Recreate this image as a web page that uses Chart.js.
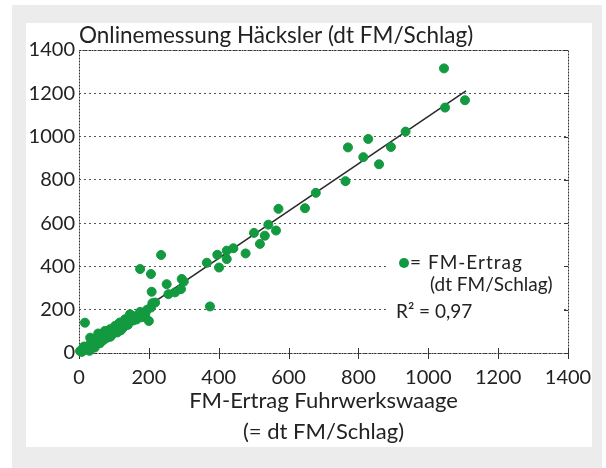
<!DOCTYPE html>
<html>
<head>
<meta charset="utf-8">
<script src="https://cdn.jsdelivr.net/npm/chart.js@4.4.1/dist/chart.umd.min.js"></script>
<style>
  html, body { margin: 0; padding: 0; background: #fff; }
  #wrap { width: 606px; height: 468px; }
</style>
</head>
<body>
<div id="wrap"><canvas id="chart" width="606" height="468"></canvas></div>
<script>
// values (dt FM per field)
const fmWaage = [3, 8, 12, 15, 17, 20, 27, 30, 32, 35, 40, 45, 46, 50, 55, 60, 60, 65, 70, 74, 75, 80, 85, 89, 90, 95, 100, 103, 110, 110, 117, 120, 125, 130, 132, 140, 146, 150, 155, 160, 165, 175, 175, 180, 185, 190, 195, 200, 206, 206, 208, 210, 218, 235, 251, 256, 275, 292, 294, 300, 366, 375, 396, 401, 423, 423, 442, 477, 501, 518, 532, 542, 564, 571, 647, 678, 763, 770, 814, 828, 859, 893, 935, 1045, 1048, 1105];
const fmHaecksler = [9, 5, 25, 30, 140, 15, 32, 10, 71, 50, 30, 25, 63, 40, 90, 79, 45, 55, 60, 102, 85, 70, 90, 110, 75, 85, 100, 125, 95, 130, 141, 105, 115, 125, 156, 130, 179, 160, 150, 170, 155, 190, 388, 165, 175, 180, 200, 148, 210, 365, 283, 230, 233, 453, 318, 272, 280, 295, 342, 330, 417, 215, 454, 395, 473, 434, 484, 460, 555, 504, 542, 593, 566, 666, 669, 740, 794, 950, 905, 989, 872, 952, 1023, 1315, 1134, 1168];

// regression line end points
const fitX = [0, 1108];
const fitY = [0, 1211];

const tickValues = [0, 200, 400, 600, 800, 1000, 1200, 1400];
const chartTitle = 'Onlinemessung Häcksler (dt FM/Schlag)';
const xTitle = ['FM-Ertrag Fuhrwerkswaage', '(= dt FM/Schlag)'];
const legendLines = ['= FM-Ertrag', '(dt FM/Schlag)'];
const r2Text = 'R² = 0,97';

const green = '#13993f';
const ink = '#222';
const fontFamily = 'Lato, "Noto Sans", sans-serif';

// background, dotted frame, tick marks and the legend box
const framePlugin = {
  id: 'frame',
  beforeDraw(chart) {
    const ctx = chart.ctx;
    ctx.save();
    ctx.fillStyle = '#fff';
    ctx.fillRect(0, 0, chart.width, chart.height);
    ctx.fillStyle = '#ececec';
    ctx.fillRect(12, 5, 590, 463);
    ctx.fillStyle = '#fff';
    ctx.fillRect(26, 23, 566, 424);
    ctx.restore();
  },
  beforeDatasetsDraw(chart) {
    const ctx = chart.ctx;
    const a = chart.chartArea;
    const xs = chart.scales.x;
    const ys = chart.scales.y;
    ctx.save();
    ctx.strokeStyle = '#333';
    ctx.lineWidth = 1;
    ctx.setLineDash([2, 1]);
    ctx.strokeRect(a.left + 0.5, a.top + 0.5, a.right - a.left, a.bottom - a.top);
    ctx.setLineDash([]);
    ctx.beginPath();
    tickValues.forEach(v => {
      const px = Math.round(xs.getPixelForValue(v)) + 0.5;
      ctx.moveTo(px, a.bottom - 5);
      ctx.lineTo(px, a.bottom + 6);
      const py = Math.round(ys.getPixelForValue(v)) + 0.5;
      ctx.moveTo(a.right - 4, py);
      ctx.lineTo(a.right, py);
    });
    ctx.stroke();
    ctx.restore();
  },
  afterDatasetsDraw(chart) {
    const ctx = chart.ctx;
    ctx.save();
    ctx.fillStyle = '#fff';
    ctx.fillRect(386, 249, 178, 74);
    ctx.fillStyle = green;
    ctx.beginPath();
    ctx.arc(404, 263, 5, 0, Math.PI * 2);
    ctx.fill();
    ctx.fillStyle = ink;
    ctx.font = '19px ' + fontFamily;
    ctx.textBaseline = 'middle';
    ctx.letterSpacing = '1px';
    ctx.fillText(legendLines[0], 410, 263);
    ctx.letterSpacing = '0px';
    ctx.fillText(legendLines[1], 430, 285);
    ctx.fillText(r2Text, 396, 312);
    ctx.restore();
  }
};

new Chart(document.getElementById('chart'), {
  type: 'scatter',
  data: {
    datasets: [
      {
        label: 'Regression',
        type: 'line',
        data: fitX.map((x, i) => ({ x: x, y: fitY[i] })),
        borderColor: '#2a2a2a',
        borderWidth: 1.5,
        pointRadius: 0,
        fill: false,
        order: 2
      },
      {
        label: 'FM-Ertrag',
        data: fmWaage.map((x, i) => ({ x: x, y: fmHaecksler[i] })),
        backgroundColor: green,
        borderColor: green,
        borderWidth: 1,
        pointRadius: 4.5,
        clip: false,
        order: 1
      }
    ]
  },
  options: {
    responsive: false,
    animation: false,
    layout: { padding: { left: 0, right: 38, top: 0, bottom: 0 } },
    plugins: {
      legend: { display: false },
      tooltip: { enabled: false },
      title: {
        display: true,
        text: chartTitle,
        align: 'start',
        fullSize: false,
        color: ink,
        font: { family: fontFamily, size: 22.5, weight: 'normal', lineHeight: 1.2 },
        padding: { top: 22, bottom: 1 }
      }
    },
    scales: {
      x: {
        type: 'linear',
        min: 0,
        max: 1400,
        afterBuildTicks: s => { s.ticks = tickValues.map(v => ({ value: v })); },
        afterFit: s => { s.height = 115; },
        grid: { display: false, drawTicks: false },
        border: { display: false },
        ticks: { color: ink, padding: 13, font: { family: fontFamily, size: 20 }, callback: v => String(v) },
        title: {
          display: true,
          text: xTitle,
          color: ink,
          font: { family: fontFamily, size: 22, lineHeight: 1.4 },
          padding: { top: 0, bottom: 21 }
        }
      },
      y: {
        type: 'linear',
        min: 0,
        max: 1400,
        afterBuildTicks: s => { s.ticks = tickValues.map(v => ({ value: v })); },
        afterFit: s => { s.width = 79; },
        grid: { color: '#555', drawTicks: false },
        border: { display: false, dash: [2, 3] },
        ticks: { color: ink, padding: 4, font: { family: fontFamily, size: 20 }, callback: v => String(v) }
      }
    }
  },
  plugins: [framePlugin]
});
</script>
</body>
</html>
